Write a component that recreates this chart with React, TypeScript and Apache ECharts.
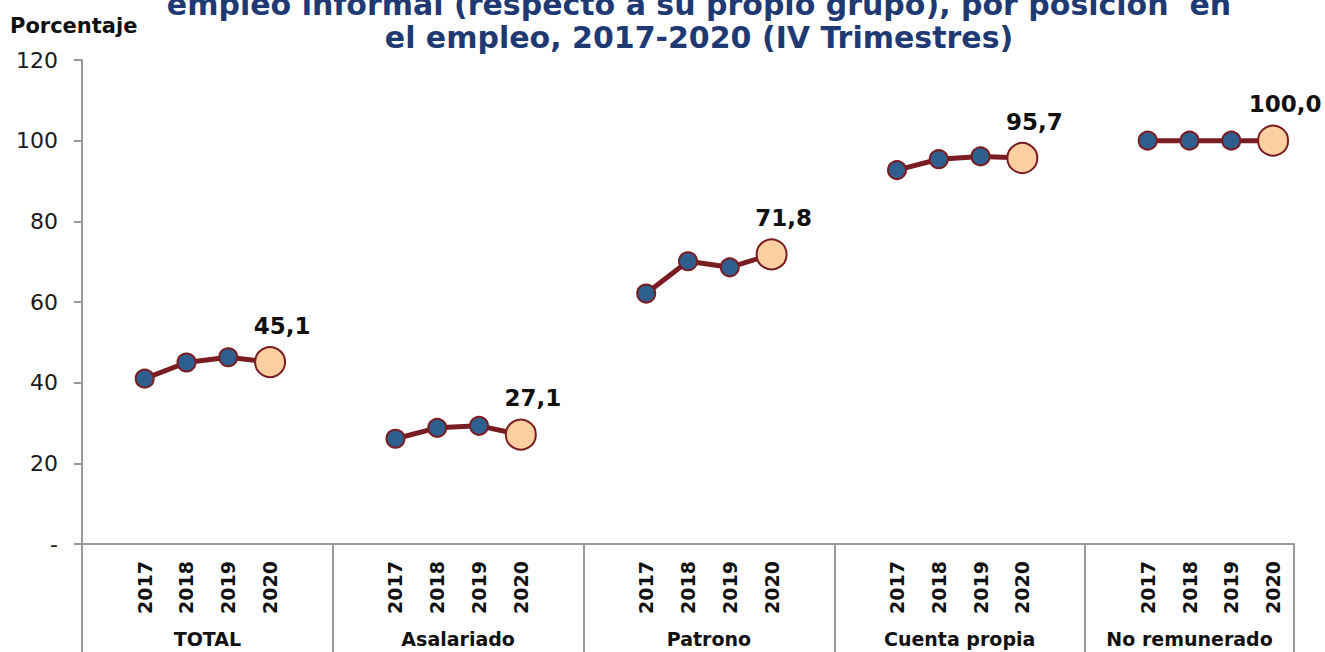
import React, { useEffect, useRef } from 'react';
import * as echarts from 'echarts';

const titleLines = [
  'empleo informal (respecto a su propio grupo), por posición  en',
  'el empleo, 2017-2020 (IV Trimestres)',
];
const yAxisTitle = 'Porcentaje';
const groups = ['TOTAL', 'Asalariado', 'Patrono', 'Cuenta propia', 'No remunerado'];
const years = ['2017', '2018', '2019', '2020'];
const totalValues = [41.0, 45.0, 46.3, 45.1];
const asalariadoValues = [26.1, 28.8, 29.3, 27.1];
const patronoValues = [62.1, 70.1, 68.6, 71.8];
const cuentaPropiaValues = [92.7, 95.4, 96.1, 95.7];
const noRemuneradoValues = [100.0, 100.0, 100.0, 100.0];
const yMin = 0;
const yMax = 120;
const yStep = 20;

const groupValues = [totalValues, asalariadoValues, patronoValues, cuentaPropiaValues, noRemuneradoValues];

const LINE = '#7A1D22';
const DOT = '#2F5F8F';
const PEACH = '#FBCFA0';
const AXIS = '#9A9A9A';
const FONT = '"DejaVu Sans", Verdana, sans-serif';

export default function App() {
  const ref = useRef<HTMLDivElement>(null);
  useEffect(() => {
    if (!ref.current) return;
    const chart = echarts.init(ref.current, null, { renderer: 'svg' });

    const categories: string[] = [];
    const seriesData: any[] = [];
    const groupCenters: number[] = [];
    groups.forEach((g, gi) => {
      const start = categories.length;
      categories.push(g + '|pre');
      seriesData.push(null);
      years.forEach((y, yi) => {
        categories.push(g + '|' + y);
        const v = groupValues[gi][yi];
        if (yi === years.length - 1) {
          seriesData.push({
            value: v,
            symbolSize: 30,
            itemStyle: { color: PEACH },
            label: { show: true },
          });
        } else {
          seriesData.push(v);
        }
      });
      if (gi < groups.length - 1) {
        categories.push(g + '|post');
        seriesData.push(null);
      }
      groupCenters.push((start + categories.length) / 2);
    });
    const slotsPerGroup = years.length + 2;
    const nSlots = categories.length;

    chart.setOption({
      animation: false,
      grid: { left: 82, right: 31, top: 60, bottom: 108, containLabel: false, outerBoundsMode: 'none' },
      xAxis: [
        {
          type: 'category',
          data: categories,
          boundaryGap: true,
          position: 'bottom',
          axisLine: { show: true, lineStyle: { color: AXIS, width: 2 } },
          axisTick: { show: false },
          axisLabel: {
            interval: 0,
            rotate: 90,
            margin: 17,
            fontSize: 19,
            fontWeight: 'bold',
            fontFamily: FONT,
            color: '#111',
            formatter: (v: string) => {
              const p = v.split('|')[1];
              return years.includes(p) ? p : '';
            },
          },
          splitLine: { show: false },
        },
        {
          type: 'value',
          min: 0,
          max: nSlots,
          interval: slotsPerGroup,
          position: 'bottom',
          axisLine: { show: false },
          axisTick: { show: true, length: 108, lineStyle: { color: AXIS, width: 2 } },
          axisLabel: { show: false },
          splitLine: { show: false },
        },
        {
          type: 'value',
          min: 0,
          max: nSlots,
          interval: 0.5,
          position: 'bottom',
          axisLine: { show: false },
          axisTick: { show: false },
          splitLine: { show: false },
          axisLabel: {
            show: true,
            margin: 85,
            fontSize: 19,
            fontWeight: 'bold',
            fontFamily: FONT,
            color: '#111',
            showMinLabel: true,
            showMaxLabel: true,
            formatter: (v: number) => {
              const i = groupCenters.findIndex((c) => Math.abs(c - v) < 1e-6);
              return i >= 0 ? groups[i] : '';
            },
          },
        },
      ],
      yAxis: {
        type: 'value',
        min: yMin,
        max: yMax,
        interval: yStep,
        axisLine: { show: true, lineStyle: { color: AXIS, width: 2 } },
        axisTick: { show: true, length: 8, lineStyle: { color: AXIS, width: 2 } },
        splitLine: { show: false },
        axisLabel: {
          margin: 24,
          fontSize: 22,
          fontFamily: FONT,
          color: '#1a1a1a',
          formatter: (v: number) => (v === 0 ? '-' : String(v)),
        },
      },
      series: [
        {
          type: 'line',
          xAxisIndex: 0,
          data: seriesData,
          connectNulls: false,
          symbol: 'circle',
          symbolSize: 18,
          lineStyle: { color: LINE, width: 5 },
          itemStyle: { color: DOT, borderColor: LINE, borderWidth: 2 },
          label: {
            show: false,
            position: 'top',
            distance: 5,
            offset: [12, -4],
            fontSize: 23,
            fontWeight: 'bold',
            fontFamily: FONT,
            color: '#111',
            formatter: (p: any) => Number(p.value).toFixed(1).replace('.', ','),
          },
          emphasis: { disabled: true },
        },
      ],
      graphic: [
        {
          type: 'text',
          x: 699,
          y: 4,
          style: {
            text: titleLines[0],
            font: 'bold 30px ' + FONT,
            fill: '#1F3A73',
            align: 'center',
            verticalAlign: 'middle',
          },
        },
        {
          type: 'text',
          x: 699,
          y: 37,
          style: {
            text: titleLines[1],
            font: 'bold 30px ' + FONT,
            fill: '#1F3A73',
            align: 'center',
            verticalAlign: 'middle',
          },
        },
        {
          type: 'text',
          x: 10,
          y: 26,
          style: {
            text: yAxisTitle,
            font: 'bold 21px ' + FONT,
            fill: '#111',
            align: 'left',
            verticalAlign: 'middle',
          },
        },
      ],
    });
    return () => chart.dispose();
  }, []);
  return (
    <div
      ref={ref}
      style={{ position: 'absolute', left: 0, top: 0, width: 1325, height: 652, background: '#fff' }}
    />
  );
}
